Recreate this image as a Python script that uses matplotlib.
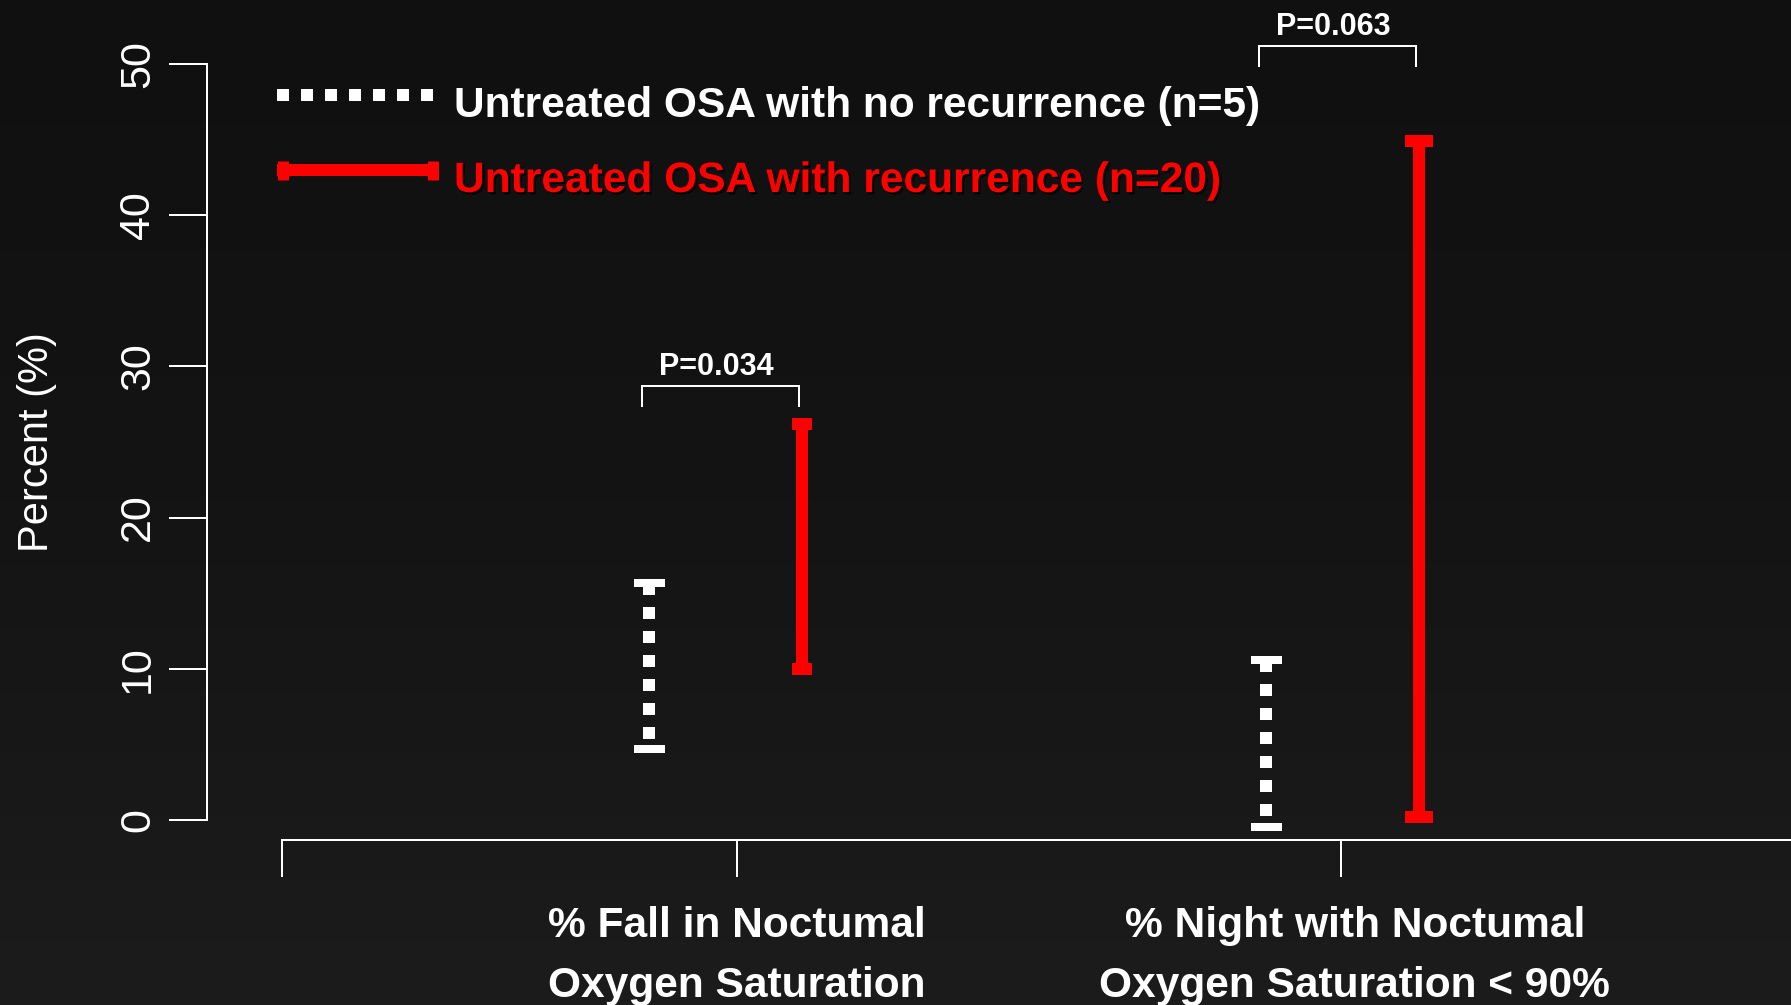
import numpy as np
import matplotlib
matplotlib.use("Agg")
import matplotlib.pyplot as plt
import matplotlib.patheffects as pe
from matplotlib.colors import LinearSegmentedColormap

# ---------------- data ----------------
categories = ["% Fall in Noctumal\nOxygen Saturation",
              "% Night with Noctumal\nOxygen Saturation < 90%"]
series_names = ["Untreated OSA with no recurrence (n=5)",
                "Untreated OSA with recurrence (n=20)"]
no_recur_low = [4.7, -0.45]
no_recur_high = [15.7, 10.55]
recur_low = [10.0, 0.2]
recur_high = [26.2, 44.9]
p_labels = ["P=0.034", "P=0.063"]
p_bracket_y = [28.7, 51.2]
y_ticks = [0, 10, 20, 30, 40, 50]
y_label = "Percent (%)"

# ---------------- layout ----------------
W, H, DPI = 1791, 1005, 100
PT = 72.0 / DPI            # points per pixel
Y0_PX, PX_PER_Y = 820.0, 15.12
X1_PX, PX_PER_X = 737.0, 604.0


def xd(px):
    return 1 + (px - X1_PX) / PX_PER_X


def yd(py):
    return (Y0_PX - py) / PX_PER_Y


FONT = "Liberation Sans"
WHITE = "#ffffff"
RED = "#ff0000"

fig = plt.figure(figsize=(W / DPI, H / DPI), dpi=DPI)

# background gradient
bg = fig.add_axes([0, 0, 1, 1], zorder=0)
cmap = LinearSegmentedColormap.from_list("bg", ["#101010", "#141414", "#1c1c1c"])
grad = np.linspace(0, 1, 256).reshape(-1, 1)
bg.imshow(grad, aspect="auto", cmap=cmap, extent=[0, 1, 0, 1], origin="upper")
bg.axis("off")

ax = fig.add_axes([0, 0, 1, 1], zorder=1)
ax.patch.set_alpha(0)
ax.set_xlim(xd(0), xd(W))
ax.set_ylim(yd(H), yd(0))

for s in ["top", "right"]:
    ax.spines[s].set_visible(False)
ax.spines["left"].set_position(("data", xd(207)))
ax.spines["left"].set_bounds(y_ticks[0], y_ticks[-1])
ax.spines["bottom"].set_position(("data", yd(840)))
ax.spines["bottom"].set_bounds(xd(282), xd(W))
for s in ["left", "bottom"]:
    ax.spines[s].set_color(WHITE)
    ax.spines[s].set_linewidth(2 * PT)

ax.set_yticks(y_ticks)
ax.set_yticklabels([str(v) for v in y_ticks], fontsize=31, family=FONT, color=WHITE)
ax.tick_params(axis="y", length=38 * PT, width=2 * PT, color=WHITE, pad=11 * PT,
               labelrotation=90)
for lab in ax.get_yticklabels():
    lab.set_va("center")
    lab.set_ha("right")

cat_pos = np.arange(1, len(categories) + 1)
ax.set_xticks([xd(282)] + list(cat_pos))
ax.set_xticklabels([""] * (len(categories) + 1))
ax.tick_params(axis="x", length=37 * PT, width=2 * PT, color=WHITE)

# category labels (two lines each)
label_x = [1.0, 2.023]
for lx, cat in zip(label_x, categories):
    l1, l2 = cat.split("\n")
    ax.text(lx, yd(937), l1, ha="center", va="baseline", fontsize=30.6,
            fontweight="bold", family=FONT, color=WHITE)
    ax.text(lx, yd(997), l2, ha="center", va="baseline", fontsize=30.6,
            fontweight="bold", family=FONT, color=WHITE)

# y label
fig.text(37 / W, 1 - 442 / H, y_label, rotation=90, ha="center", va="center",
         fontsize=30, family=FONT, color=WHITE)

# ---------------- error bars ----------------
group_center = np.array([0.981, 2.0025])
offset = 0.127
x_white = group_center - offset
x_red = group_center + offset
red_cap_px = [20, 28]

dash_lw = 12 * PT
for x, lo, hi in zip(x_white, no_recur_low, no_recur_high):
    ln, = ax.plot([x, x], [hi, lo], color=WHITE, lw=dash_lw, solid_capstyle="butt",
                  dash_capstyle="butt")
    ln.set_dashes([1, 1])
    ax.plot([x, x], [lo, hi], ls="none", marker="_", ms=31 * PT, mew=8 * PT,
            color=WHITE)

for x, lo, hi, cw in zip(x_red, recur_low, recur_high, red_cap_px):
    ax.plot([x, x], [lo, hi], color=RED, lw=12 * PT, solid_capstyle="butt")
    ax.plot([x, x], [lo, hi], ls="none", marker="_", ms=cw * PT, mew=12 * PT,
            color=RED)

# p-value brackets
for xw, xr, by, lab in zip(x_white, x_red, p_bracket_y, p_labels):
    xl = xw - 0.011
    xrr = xr - 0.006
    ax.plot([xl, xl, xrr, xrr], [by - 1.3, by, by, by - 1.3], color=WHITE,
            lw=2 * PT, solid_joinstyle="miter")
    ax.text((xl + xrr) / 2 - 0.006, by + 0.72, lab, ha="center", va="baseline",
            fontsize=22, fontweight="bold", family=FONT, color=WHITE)

# ---------------- legend ----------------
lx0, lx1 = xd(277), xd(438)
ly_white, ly_red = yd(95), yd(170)
ln, = ax.plot([lx0, lx1], [ly_white, ly_white], color=WHITE, lw=dash_lw,
              dash_capstyle="butt")
ln.set_dashes([1, 1])
ax.plot([lx0, lx1], [ly_red, ly_red], color=RED, lw=12 * PT, solid_capstyle="butt")
ax.plot([lx0 + 5.5 / PX_PER_X, lx1 - 5.5 / PX_PER_X], [ly_red, ly_red], ls="none",
        marker="|", ms=19 * PT, mew=11 * PT, color=RED)

ax.text(xd(454), yd(117), series_names[0], ha="left", va="baseline", fontsize=30.6,
        fontweight="bold", family=FONT, color=WHITE)
t = ax.text(xd(454), yd(192), series_names[1], ha="left", va="baseline",
            fontsize=30.6, fontweight="bold", family=FONT, color=RED)
t.set_path_effects([pe.SimplePatchShadow(offset=(1.5, -1.5), shadow_rgbFace="black",
                                         alpha=0.9), pe.Normal()])

fig.savefig("out.png", dpi=DPI, facecolor="#141414")
